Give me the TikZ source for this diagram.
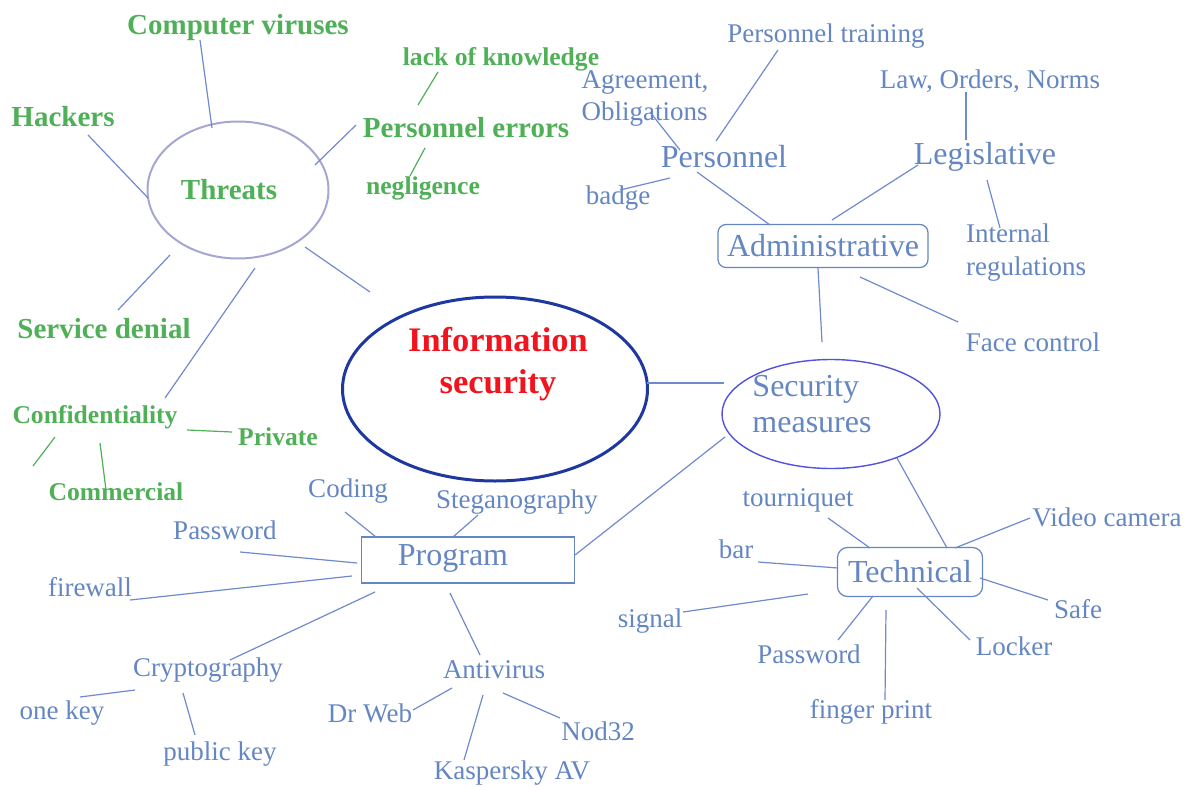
\documentclass[tikz,border=0pt]{standalone}
\usepackage{fontspec}
\setmainfont{Liberation Serif}
\usetikzlibrary{shapes.geometric}

\definecolor{grn}{RGB}{80,176,88}
\definecolor{blu}{RGB}{100,134,194}
\definecolor{lnc}{RGB}{112,138,206}
\definecolor{isred}{RGB}{240,20,30}
\definecolor{isblue}{RGB}{30,56,160}
\definecolor{thrc}{RGB}{166,166,210}
\definecolor{smc}{RGB}{82,82,222}

\tikzset{
  grnbig/.style={text=grn, font=\bfseries\fontsize{14.5}{16}\selectfont},
  grnsm/.style={text=grn, font=\bfseries\fontsize{12.8}{15}\selectfont},
  blusm/.style={text=blu, font=\fontsize{13.5}{16}\selectfont},
  blubig/.style={text=blu, font=\fontsize{16}{18}\selectfont},
  lnk/.style={draw=lnc, line width=0.6pt},
  glnk/.style={draw=grn, line width=0.6pt},
  box/.style={draw=blu, line width=0.6pt, inner sep=0pt},
}

\begin{document}
\begin{tikzpicture}[x=0.5pt,y=-0.5pt]
\useasboundingbox[fill=white] (0,0) rectangle (1189,787);

% centre
\node[ellipse, draw=isblue, line width=1.5pt, minimum width=152.5pt, minimum height=92pt] (info) at (495,389) {};
\node[text=isred, font=\bfseries\fontsize{17.2}{21}\selectfont, align=center] (infotxt) at (498,364) {Information\\security};

% threats
\node[ellipse, draw=thrc, line width=1pt, minimum width=90.5pt, minimum height=68.5pt] (thr) at (238,190) {};
\node[grnbig] (thrtxt) at (229,190) {Threats};
\node[grnbig] (cv) at (238,28) {Computer viruses};
\node[grnbig] (hack) at (63,117) {Hackers};
\node[grnbig] (perr) at (466,128) {Personnel errors};
\node[grnsm] (lack) at (501,59) {lack of knowledge};
\node[grnsm] (negl) at (423,188) {negligence};
\node[grnbig] (sden) at (104,329) {Service denial};
\node[grnsm] (conf) at (95,417) {Confidentiality};
\node[grnsm] (priv) at (278,437) {Private};
\node[grnsm] (comm) at (116,492) {Commercial};
\coordinate (confend) at (33,466);

\draw[lnk] ([shift={(-26,-62)}]thr.center) -- ([shift={(-38,12)}]cv.center);
\draw[lnk] ([shift={(-90,8)}]thr.center) -- ([shift={(25,18)}]hack.center);
\draw[lnk] ([shift={(77,-25)}]thr.center) -- ([shift={(-110,-3)}]perr.center);
\draw[glnk] ([shift={(-48,-23)}]perr.center) -- ([shift={(-63,13)}]lack.center);
\draw[glnk] ([shift={(-41,20)}]perr.center) -- ([shift={(-13,-12)}]negl.center);
\draw[lnk] ([shift={(-68,65)}]thr.center) -- ([shift={(14,-19)}]sden.center);
\draw[lnk] ([shift={(17,78)}]thr.center) -- ([shift={(70,-19)}]conf.center);
\draw[lnk] ([shift={(67,57)}]thr.center) -- ([shift={(-125,-97)}]info.center);
\draw[glnk] ([shift={(92,13)}]conf.center) -- ([shift={(-46,-5)}]priv.center);
\draw[glnk] ([shift={(5,26)}]conf.center) -- ([shift={(-10,-2)}]comm.center);
\draw[glnk] ([shift={(-40,20)}]conf.center) -- (confend);

% security measures
\node[ellipse, draw=smc, line width=0.7pt, minimum width=109pt, minimum height=54.5pt] (sm) at (831,414) {};
\node[blubig, align=left] (smtxt) at (812,404) {Security\\measures};
\draw[lnk] ([shift={(152,-6)}]info.center) -- ([shift={(-107,-31)}]sm.center);

% administrative
\node[box, rounded corners=4pt, minimum width=105pt, minimum height=21.5pt, blubig] (adm) at (823,246) {Administrative};
\node[blubig] (pers) at (724,157) {Personnel};
\node[blubig] (legis) at (985,157) {Legislative};
\node[blusm] (ptr) at (826,36) {Personnel training};
\node[blusm, align=left, font=\fontsize{13.5}{16}\selectfont] (agr) at (645,98) {Agreement,\\Obligations};
\node[blusm] (law) at (990,81) {Law, Orders, Norms};
\node[blusm] (badge) at (618,198) {badge};
\node[blusm, align=left, font=\fontsize{13.5}{16.5}\selectfont] (intr) at (1026,253) {Internal\\regulations};
\node[blusm] (face) at (1033,342) {Face control};

\draw[lnk] ([shift={(-9,-72)}]sm.center) -- ([shift={(-5,22)}]adm.center);
\draw[lnk] ([shift={(37,31)}]adm.center) -- ([shift={(-75,-20)}]face.center);
\draw[lnk] ([shift={(-53,-21)}]adm.center) -- ([shift={(-27,15)}]pers.center);
\draw[lnk] ([shift={(9,-26)}]adm.center) -- ([shift={(-67,8)}]legis.center);
\draw[lnk] ([shift={(-8,-16)}]pers.center) -- ([shift={(-48,14)}]ptr.center);
\draw[lnk] ([shift={(-44,-7)}]pers.center) -- ([shift={(5,14)}]agr.center);
\draw[lnk] ([shift={(-54,21)}]pers.center) -- ([shift={(2,-8)}]badge.center);
\draw[lnk] ([shift={(-19,-17)}]legis.center) -- ([shift={(-24,11)}]law.center);
\draw[lnk] ([shift={(2,23)}]legis.center) -- ([shift={(-26,-25)}]intr.center);

% program
\node[box, minimum width=106.5pt, minimum height=23pt] (prog) at (468,560) {};
\node[blubig] (progtxt) at (453,558) {Program};
\node[blusm] (coding) at (348,491) {Coding};
\node[blusm] (steg) at (517,502) {Steganography};
\node[blusm] (pwd1) at (225,530) {Password};
\node[blusm] (fw) at (90,587) {firewall};
\node[blusm] (cryp) at (208,670) {Cryptography};
\node[blusm] (anti) at (494,670) {Antivirus};
\node[blusm] (onek) at (62,713) {one key};
\node[blusm] (pubk) at (220,754) {public key};
\node[blusm] (drw) at (370,713) {Dr Web};
\node[blusm] (kasp) at (512,773) {Kaspersky AV};
\node[blusm] (nod) at (598,731) {Nod32};

\draw[lnk] ([shift={(-106,23)}]sm.center) -- ([shift={(107,-5)}]prog.center);
\draw[lnk] ([shift={(-92,-23)}]prog.center) -- ([shift={(-3,21)}]coding.center);
\draw[lnk] ([shift={(-15,-23)}]prog.center) -- ([shift={(-39,13)}]steg.center);
\draw[lnk] ([shift={(-111,3)}]prog.center) -- ([shift={(15,22)}]pwd1.center);
\draw[lnk] ([shift={(-116,16)}]prog.center) -- ([shift={(40,13)}]fw.center);
\draw[lnk] ([shift={(-93,32)}]prog.center) -- ([shift={(22,-10)}]cryp.center);
\draw[lnk] ([shift={(-18,33)}]prog.center) -- ([shift={(-14,-15)}]anti.center);
\draw[lnk] ([shift={(-73,20)}]cryp.center) -- ([shift={(18,-16)}]onek.center);
\draw[lnk] ([shift={(-25,23)}]cryp.center) -- ([shift={(-25,-19)}]pubk.center);
\draw[lnk] ([shift={(-42,18)}]anti.center) -- ([shift={(43,-3)}]drw.center);
\draw[lnk] ([shift={(-11,25)}]anti.center) -- ([shift={(-48,-13)}]kasp.center);
\draw[lnk] ([shift={(9,23)}]anti.center) -- ([shift={(-38,-13)}]nod.center);

% technical
\node[box, rounded corners=5pt, minimum width=72.5pt, minimum height=24.5pt, blubig] (tech) at (910,572) {Technical};
\node[blusm] (tour) at (798,500) {tourniquet};
\node[blusm] (vid) at (1107,517) {Video camera};
\node[blusm] (bar) at (736,549) {bar};
\node[blusm] (safe) at (1078,609) {Safe};
\node[blusm] (sig) at (650,621) {signal};
\node[blusm] (lock) at (1014,646) {Locker};
\node[blusm] (pwd2) at (809,654) {Password};
\node[blusm] (fp) at (871,712) {finger print};

\draw[lnk] ([shift={(66,44)}]sm.center) -- ([shift={(37,-24)}]tech.center);
\draw[lnk] ([shift={(-40,-24)}]tech.center) -- ([shift={(30,18)}]tour.center);
\draw[lnk] ([shift={(45,-24)}]tech.center) -- ([shift={(-77,1)}]vid.center);
\draw[lnk] ([shift={(-72,-4)}]tech.center) -- ([shift={(22,13)}]bar.center);
\draw[lnk] ([shift={(70,6)}]tech.center) -- ([shift={(-30,-9)}]safe.center);
\draw[lnk] ([shift={(-102,22)}]tech.center) -- ([shift={(33,-9)}]sig.center);
\draw[lnk] ([shift={(7,16)}]tech.center) -- ([shift={(-44,-6)}]lock.center);
\draw[lnk] ([shift={(-37,24)}]tech.center) -- ([shift={(29,-14)}]pwd2.center);
\draw[lnk] ([shift={(-24,38)}]tech.center) -- ([shift={(14,-12)}]fp.center);
\end{tikzpicture}
\end{document}
